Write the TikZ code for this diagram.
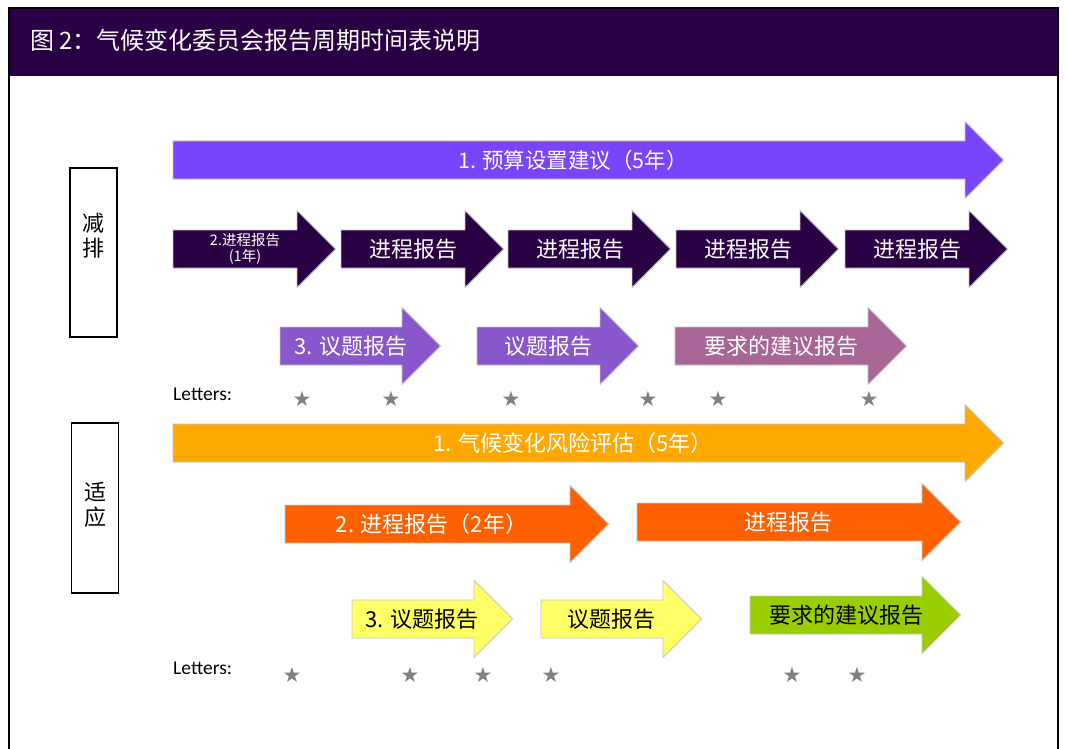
\documentclass[tikz,border=0pt]{standalone}
\usepackage{fontspec}
\setmainfont{Noto Sans CJK SC}
\newfontfamily\letterfont{Carlito}
\newfontfamily\starfont{DejaVu Sans}
\usepackage{xcolor}
\usepackage{tikz}
\usetikzlibrary{positioning}

\definecolor{headpurple}{HTML}{2A0044}
\definecolor{violetbar}{HTML}{7A45FA}
\definecolor{purplebar}{HTML}{8A56CC}
\definecolor{mauvebar}{HTML}{A86696}
\definecolor{orangebar}{HTML}{FFA800}
\definecolor{redbar}{HTML}{FF6000}
\definecolor{yellowbar}{HTML}{FFFF66}
\definecolor{greenbar}{HTML}{9ACD00}

\tikzstyle{barlabel} = [inner sep=0pt, text=white, font=\fontsize{22}{26}\selectfont]
\tikzstyle{darklabel} = [barlabel, text=black]
\tikzstyle{sidebox} = [rectangle, draw=black, line width=1.6pt, minimum width=47pt, inner sep=0pt]
\tikzstyle{sidetext} = [align=center, inner sep=0pt, font=\fontsize{22}{25}\selectfont]
\tikzstyle{lettertext} = [anchor=west, inner sep=0pt, font=\letterfont\fontsize{19.5}{21}\selectfont]
\tikzstyle{starmark} = [inner sep=0pt, text=gray, font=\starfont\fontsize{21}{21}\selectfont]

% name, tail x, head x, middle y, fill, text style, text shift, text
\newcommand{\bararrow}[8]{%
  \filldraw[fill=#5, draw=gray!45, line width=0.8pt]
    (#2,#4-19) -- (#3,#4-19) -- (#3,#4-38.5) -- (#3+38.5,#4)
    -- (#3,#4+38.5) -- (#3,#4+19) -- (#2,#4+19) -- cycle;
  \node[#6] (#1) at ({(#2+#3)/2+#7},#4) {#8};
}

\begin{document}
\begin{tikzpicture}[x=1pt, y=-1pt]
	\useasboundingbox (0,0) rectangle (1065,749);
	
	% frame and title
	\fill[headpurple] (9,8) rectangle (1058,76);
	\draw[line width=1.2pt] (9,749) -- (9,8) -- (1058,8) -- (1058,749);
	\node (title) [anchor=west, inner sep=0pt, text=white, font=\fontsize{24}{28}\selectfont] at (30,40) {图 2：气候变化委员会报告周期时间表说明};
	
	% mitigation
	\node (mitbox) [sidebox, minimum height=169pt] at (93.5,252.5) {};
	\node (mittext) [sidetext] at (93.5,236) {减\\排};
	
	\bararrow{budget}{173}{965}{160}{violetbar}{barlabel, font=\fontsize{21.5}{24}\selectfont}{4}{1. 预算设置建议（5年）}
	
	\bararrow{prog1}{173}{297}{249}{headpurple}{barlabel, align=center, font=\fontsize{14.5}{16}\selectfont}{10}{2.进程报告\\(1年)}
	\bararrow{prog2}{341}{465}{249}{headpurple}{barlabel}{10}{进程报告}
	\bararrow{prog3}{508}{632}{249}{headpurple}{barlabel}{10}{进程报告}
	\bararrow{prog4}{676}{800}{249}{headpurple}{barlabel}{10}{进程报告}
	\bararrow{prog5}{845}{969}{249}{headpurple}{barlabel}{10}{进程报告}
	
	\bararrow{topic1}{280}{402}{346}{purplebar}{barlabel}{10}{3. 议题报告}
	\bararrow{topic2}{477}{600}{346}{purplebar}{barlabel}{10}{议题报告}
	\bararrow{advice1}{675}{868}{346}{mauvebar}{barlabel}{10}{要求的建议报告}
	
	\node (letters1) [lettertext] at (173,394) {Letters:};
	\foreach \sx in {302,391,511,648,718,869}
		\node (stara\sx) [starmark] at (\sx,399) {★};
	
	% adaptation
	\node (adabox) [sidebox, minimum height=170pt] at (95,508) {};
	\node (adatext) [sidetext] at (95,505) {适\\应};
	
	\bararrow{risk}{173}{965}{443}{orangebar}{barlabel, font=\fontsize{22}{26}\selectfont}{4}{1. 气候变化风险评估（5年）}
	
	\bararrow{progb1}{285}{570}{524}{redbar}{barlabel}{4}{2. 进程报告（2年）}
	\bararrow{progb2}{637}{922}{522}{redbar}{barlabel}{9}{进程报告}
	
	\bararrow{topicb1}{352}{474}{619}{yellowbar}{darklabel}{9}{3. 议题报告}
	\bararrow{topicb2}{541}{663}{619}{yellowbar}{darklabel}{9}{议题报告}
	\bararrow{advice2}{750}{922}{615}{greenbar}{darklabel}{10}{要求的建议报告}
	
	\node (letters2) [lettertext] at (173,668) {Letters:};
	\foreach \sx in {292,410,483,551,792,857}
		\node (starb\sx) [starmark] at (\sx,675) {★};
	
\end{tikzpicture}
\end{document}
